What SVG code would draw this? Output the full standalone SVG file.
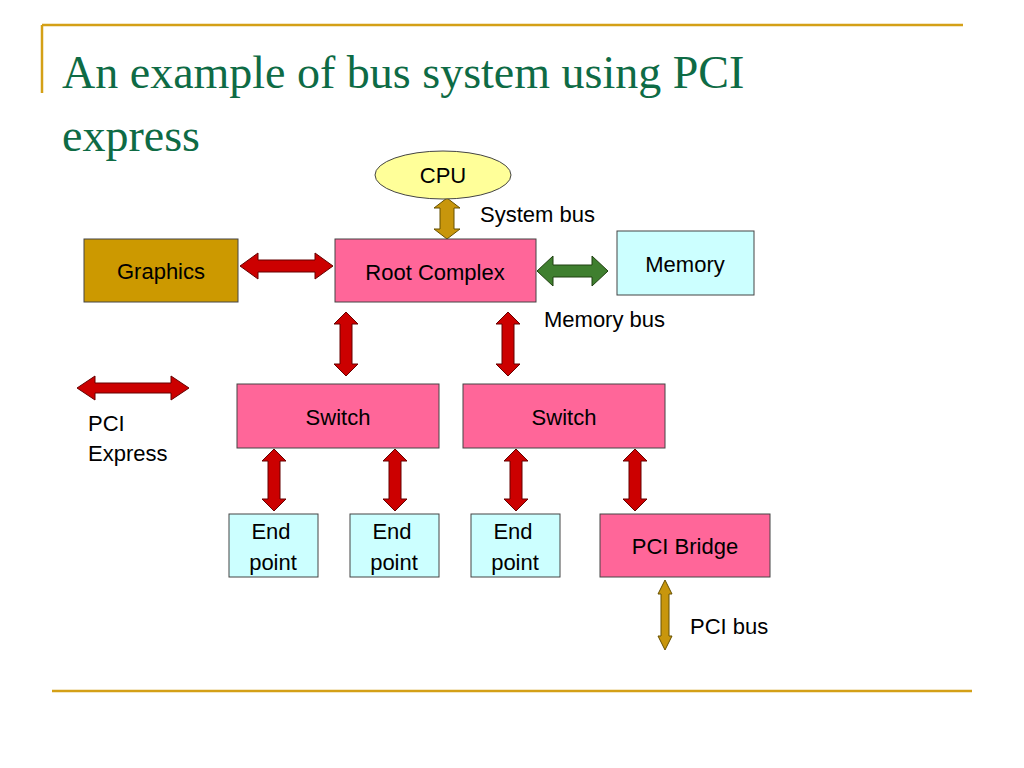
<svg xmlns="http://www.w3.org/2000/svg" width="1024" height="768" viewBox="0 0 1024 768">
<style>
.t{font-family:"Liberation Sans",Arial,sans-serif;font-size:22px;fill:#000}
.b{stroke:#444;stroke-width:1}
.red{fill:#CC0000;stroke:#660000;stroke-width:1}
.gold{fill:#C8960C;stroke:#665000;stroke-width:1}
.grn{fill:#3F7F2F;stroke:#1f4010;stroke-width:1}
.rule{stroke:#D4A017;stroke-width:2.5}
</style>
<rect width="1024" height="768" fill="#fff"/>
<line class="rule" x1="42" y1="25" x2="963" y2="25"/>
<line class="rule" x1="42" y1="25" x2="42" y2="93"/>
<line class="rule" x1="52" y1="691" x2="972" y2="691"/>
<text x="62" y="88" font-family="'Liberation Serif',serif" font-size="46" fill="#0E6B45">An example of bus system using PCI</text>
<text x="62" y="151" font-family="'Liberation Serif',serif" font-size="46" fill="#0E6B45">express</text>
<g id="connectors">
<polygon class="gold" points="447,198 460,208 454,208 454,229 460,229 447,239 434,229 440,229 440,208 434,208"/>
<polygon class="red" points="240,266 258,253 258,260 315,260 315,253 333,266 315,279 315,272 258,272 258,279"/>
<polygon class="grn" points="537,271 553,256 553,265 592,265 592,256 608,271 592,286 592,277 553,277 553,286"/>
<polygon class="red" points="346,312 358,324 352,324 352,364 358,364 346,376 334,364 340,364 340,324 334,324"/>
<polygon class="red" points="508,312 520,324 514,324 514,364 520,364 508,376 496,364 502,364 502,324 496,324"/>
<polygon class="red" points="77,388 95,376 95,383 171,383 171,376 189,388 171,400 171,393 95,393 95,400"/>
<polygon class="red" points="274,449 286,461 280,461 280,499 286,499 274,511 262,499 268,499 268,461 262,461"/>
<polygon class="red" points="395,449 407,461 401,461 401,499 407,499 395,511 383,499 389,499 389,461 383,461"/>
<polygon class="red" points="516,449 528,461 522,461 522,499 528,499 516,511 504,499 510,499 510,461 504,461"/>
<polygon class="red" points="635,449 647,461 641,461 641,499 647,499 635,511 623,499 629,499 629,461 623,461"/>
<polygon class="gold" points="665,580 672,594 669,594 669,636 672,636 665,650 658,636 661,636 661,594 658,594"/>
</g>
<g id="cpu"><ellipse class="b" cx="443" cy="175" rx="68" ry="24" fill="#FFFF99"/><text class="t" x="443" y="183" text-anchor="middle">CPU</text></g>
<g id="graphics"><rect class="b" x="84" y="239" width="154" height="63" fill="#CC9900"/><text class="t" x="161" y="279" text-anchor="middle">Graphics</text></g>
<g id="root"><rect class="b" x="335" y="239" width="201" height="63" fill="#FF6699"/><text class="t" x="435" y="280" text-anchor="middle">Root Complex</text></g>
<g id="memory"><rect class="b" x="617" y="231" width="137" height="64" fill="#CCFFFF"/><text class="t" x="685" y="272" text-anchor="middle">Memory</text></g>
<g id="switch1"><rect class="b" x="237" y="384" width="202" height="64" fill="#FF6699"/><text class="t" x="338" y="425" text-anchor="middle">Switch</text></g>
<g id="switch2"><rect class="b" x="463" y="384" width="202" height="64" fill="#FF6699"/><text class="t" x="564" y="425" text-anchor="middle">Switch</text></g>
<g id="end1"><rect class="b" x="229" y="514" width="89" height="63" fill="#CCFFFF"/><text class="t" x="271" y="539" text-anchor="middle">End</text><text class="t" x="273" y="570" text-anchor="middle">point</text></g>
<g id="end2"><rect class="b" x="350" y="514" width="89" height="63" fill="#CCFFFF"/><text class="t" x="392" y="539" text-anchor="middle">End</text><text class="t" x="394" y="570" text-anchor="middle">point</text></g>
<g id="end3"><rect class="b" x="471" y="514" width="89" height="63" fill="#CCFFFF"/><text class="t" x="513" y="539" text-anchor="middle">End</text><text class="t" x="515" y="570" text-anchor="middle">point</text></g>
<g id="bridge"><rect class="b" x="600" y="514" width="170" height="63" fill="#FF6699"/><text class="t" x="685" y="554" text-anchor="middle">PCI Bridge</text></g>
<g id="labels">
<text class="t" x="480" y="222">System bus</text>
<text class="t" x="544" y="327">Memory bus</text>
<text class="t" x="88" y="431">PCI</text>
<text class="t" x="88" y="461">Express</text>
<text class="t" x="690" y="634">PCI bus</text>
</g>
</svg>
